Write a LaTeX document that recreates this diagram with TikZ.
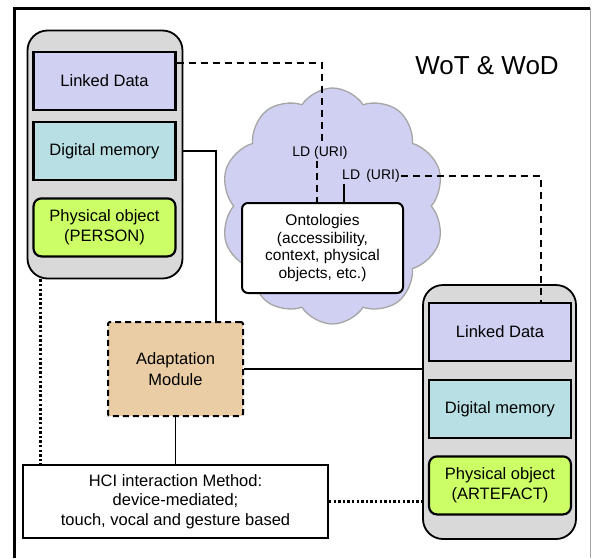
\documentclass[tikz,border=0pt]{standalone}
\usepackage{fontspec}
\setmainfont{Liberation Sans}
\usetikzlibrary{shapes.symbols, positioning, calc}
\definecolor{linkblue}{RGB}{208, 208, 242}
\definecolor{memcyan}{RGB}{184, 224, 228}
\definecolor{physgreen}{RGB}{204, 255, 102}
\definecolor{devgray}{RGB}{217, 217, 217}
\definecolor{adapttan}{RGB}{234, 205, 165}
\definecolor{cloudedge}{RGB}{165, 165, 165}
\newcommand{\diagfont}{\fontsize{16.5}{20.5}\selectfont}
\tikzset{
    device/.style={rectangle, draw, line width=1.8pt, fill=devgray, rounded corners=20pt, minimum width=155pt, minimum height=248pt},
    databox/.style={rectangle, draw, line width=2.2pt, minimum width=142pt, minimum height=58pt, inner sep=0pt, align=center, font=\diagfont},
    physbox/.style={databox, fill=physgreen, rounded corners=8pt},
    plainbox/.style={rectangle, draw, line width=2pt, fill=white, align=center, inner sep=0pt, font=\diagfont}
}

\begin{document}
\begin{tikzpicture}[
    x=1pt, y=-1pt,
    solidline/.style={line width=1.8pt},
    dashedline/.style={line width=2pt, dash pattern=on 7pt off 5pt},
    dottedline/.style={line width=2.6pt, dash pattern=on 2.4pt off 2.2pt},
    urilabel/.style={inner sep=1pt, font=\fontsize{14}{16}\selectfont}
]
    \useasboundingbox (0,0) rectangle (592,558);

    % Frame
    \draw[line width=3pt] (14,558) -- (14,8) -- (590,8);
    \draw[cloudedge, line width=1pt] (590,8) -- (590,558);
    \node[font=\fontsize{26}{30}\selectfont] (title) at (487,66) {WoT \& WoD};

    % Cloud with ontologies
    \node[cloud, cloud puffs=10, cloud puff arc=115, cloud ignores aspect, draw=cloudedge, line width=1.3pt, fill=linkblue, minimum width=224pt, minimum height=236pt] (cloud) at (332.5,206) {};
    \node[plainbox, rounded corners=6pt, minimum width=161pt, minimum height=90pt, font=\fontsize{15.5}{17.5}\selectfont] (onto) at (322.5,248) {Ontologies\\ (accessibility,\\ context, physical\\ objects, etc.)};
    \node[urilabel] (urileft) at (320,153) {LD (URI)};
    \node[urilabel] (uriright) at (371,176) {LD \,(URI)};

    % Left device (person)
    \node[device] (devleft) at (105,154.5) {};
    \node[databox, fill=linkblue] (ldleft) at (104.5,81) {Linked Data};
    \node[databox, fill=memcyan, below=10pt of ldleft] (dmleft) {Digital memory};
    \node[physbox, below=16pt of dmleft] (poleft) {Physical object\\ (PERSON)};

    % Right device (artefact)
    \node[device, minimum width=153pt, minimum height=254pt] (devright) at (499.5,412) {};
    \node[databox, fill=linkblue] (ldright) at (500,332) {Linked Data};
    \node[databox, fill=memcyan, below=17pt of ldright] (dmright) {Digital memory};
    \node[physbox, below=16pt of dmright] (poright) {Physical object\\ (ARTEFACT)};

    % Adaptation and interaction
    \node[plainbox, fill=adapttan, dashedline, dash pattern=on 6pt off 4pt, rounded corners=2pt, minimum width=135pt, minimum height=94pt] (adapt) at (175.5,369) {Adaptation\\ Module};
    \node[plainbox, minimum width=305pt, minimum height=73pt, font=\fontsize{16.5}{19.7}\selectfont] (hci) at (175.5,501.5) {HCI interaction Method:\\ device-mediated;\\ touch, vocal and gesture based};

    % Linked data connectors
    \draw[dashedline] ([yshift=-12pt]ldleft.north east) -| ([xshift=2pt]urileft.north);
    \draw[dashedline] ([xshift=-3pt]urileft.south) -- ([xshift=-3pt]urileft.south |- onto.north);
    \draw[dashedline] (uriright.east) -| ([xshift=41pt]ldright.north);
    \draw[solidline] ([xshift=3pt]uriright.south west) -- ([xshift=3pt]uriright.south west |- onto.north);

    % Adaptation connectors
    \draw[solidline] (devleft.east |- dmleft) -| ([xshift=-28pt]adapt.north east);
    \draw[solidline] (adapt.east) -- (adapt.east -| devright.west);
    \draw[solidline] (adapt.south) -- (hci.north);

    % Physical interaction
    \draw[dottedline] ([xshift=14pt]devleft.south west) -- ([xshift=14pt]devleft.south west |- hci.north);
    \draw[dottedline] (hci.east) -- (hci.east -| devright.west);

\end{tikzpicture}
\end{document}
